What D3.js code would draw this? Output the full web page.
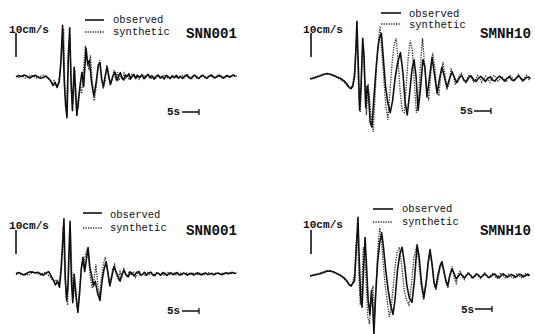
<!DOCTYPE html>
<html>
<head>
<meta charset="utf-8">
<script src="https://cdn.jsdelivr.net/npm/d3@7"></script>
<style>
    body { margin: 0; background: #fff; }
    svg { display: block; }
    .obs { fill: none; stroke: #111; stroke-width: 1.6; stroke-linejoin: round; }
    .syn { fill: none; stroke: #333; stroke-width: 1.3; stroke-dasharray: 1.3, 1.2; }
    .lbl { font-family: "Liberation Mono", "DejaVu Sans Mono", monospace; fill: #111; }
</style>
</head>
<body>
<div id="container"></div>
<script>
// time axis (s) and velocity (cm/s) pairs
const snnUpperObs = [
    [0,0],[0.8,0.6],[1.6,0.2],[2.4,0.8],[3.2,0.3],[4,-0.4],[4.8,0.2],[5.6,0.7],[6.4,0.1],[7.2,-0.5],[8,-0.2],[8.8,0.4],
    [9.6,-0.6],[10.3,-1.8],[10.9,-3.6],[11.5,-2.2],[12.1,-4.4],[12.7,-2],[13.2,6],[13.7,21.5],[14.2,-2],[14.6,-12],
    [15.0,-17],[15.4,8],[15.8,20.5],[16.2,-2],[16.6,-14],[17.1,4],[17.5,-6],[17.9,-16],[18.4,-9],[18.9,-3],[19.4,2],
    [19.9,-4],[20.6,12],[21.1,5],[21.6,7],[22.2,-2],[22.9,-8],[23.6,-2],[24.2,5],[24.7,6],[25.2,-1],[25.7,-4],[26.3,1],
    [26.8,4],[27.3,0],[27.8,-3],[28.4,0],[29.1,2],[29.7,-1.5],[30.2,0.5],[30.7,1.8],[31.2,-0.5],[31.7,-1.2],[32.2,0.8],
    [32.7,0.2],[33.2,1.4],[33.7,-0.8],[34.2,0.3],[34.7,1],[35.2,-0.6],[35.8,0.6],[36.4,-0.2],[37,0.9],[37.6,-0.7],
    [38.2,0.4],[38.8,1.1],[39.4,-0.3],[40,0.5],[40.6,-0.9],[41.2,0.2],[41.8,0.8],[42.4,-0.4],[43,0.3],[43.6,-0.8],
    [44.2,0.6],[44.8,0.1],[45.4,-0.6],[46,0.5],[46.6,-0.3],[47.2,0.7],[47.8,-0.5],[48.4,0.2],[49,-0.6],[49.6,0.4],
    [50.2,0.9],[50.8,-0.2],[51.4,-0.7],[52,0.3],[52.6,0.8],[53.2,-0.3],[53.8,-0.6],[54.4,0.4],[55,0.7],[55.6,-0.2],
    [56.2,-0.5],[56.8,0.3],[57.4,0.9],[58,0.1],[58.6,-0.4],[59.2,0.2],[59.8,0.8],[60.4,0.2],[61,-0.5],[61.6,0.1],
    [62.2,0.6],[62.8,-0.1],[63.4,0.4],[64,0.9],[64.6,0.2]
];
const snnUpperSyn = [
    [0,0.3],[0.9,-0.2],[1.8,0.5],[2.7,-0.4],[3.6,0.2],[4.5,0.7],[5.4,0.1],[6.3,-0.6],[7.2,0.3],[8.1,0.8],[9,-0.2],
    [9.8,-1],[10.5,-2.5],[11.2,-1.5],[11.8,-3.5],[12.4,-3],[13,2],[13.5,14],[14,20],[14.4,-6],[14.9,-14],[15.4,12],
    [15.8,16],[16.3,-6],[16.8,-11],[17.3,3],[17.8,-10],[18.3,-13],[18.8,-4],[19.3,-7],[19.8,2],[20.4,13],[20.9,8],
    [21.4,3],[21.9,9],[22.4,-1],[23,-10],[23.6,-4],[24.1,3],[24.6,7],[25.1,1],[25.6,-5],[26.2,-2],[26.7,5],[27.2,2],
    [27.7,-3],[28.3,-1],[28.8,3],[29.3,-1],[29.8,2],[30.3,-1.5],[30.8,1.2],[31.3,-1],[31.8,1.6],[32.3,-0.4],[32.8,1],
    [33.3,-1.2],[33.8,0.6],[34.4,1.4],[35,-0.5],[35.6,0.8],[36.2,-0.9],[36.8,0.6],[37.4,1],[38,-0.6],[38.6,0.3],
    [39.2,1],[39.8,-0.5],[40.4,0.4],[41,-0.8],[41.6,0.6],[42.2,0.1],[42.8,-0.7],[43.4,0.5],[44,0.9],[44.6,-0.3],
    [45.2,-0.6],[45.8,0.4],[46.4,-0.2],[47,0.5],[47.6,-0.6],[48.2,0.3],[48.8,0.7],[49.4,-0.4],[50,0.2],[50.6,0.8],
    [51.2,-0.1],[51.8,-0.6],[52.4,0.5],[53,0.6],[53.6,-0.4],[54.2,-0.3],[54.8,0.6],[55.4,0.4],[56,-0.4],[56.6,0.1],
    [57.2,0.7],[57.8,-0.2],[58.4,-0.5],[59,0.4],[59.6,0.6],[60.2,-0.1],[60.8,-0.4],[61.4,0.3],[62,0.7],[62.6,0],
    [63.2,0.5],[63.8,0.8],[64.4,0.3],[65,0.5]
];
const smnhUpperObs = [
    [0,0],[1,0.3],[2,0.8],[3,1.3],[4,1.9],[5,2.2],[6,2],[7,1.5],[8,0.8],[9,0.2],[10,-0.8],[10.8,-2],[11.5,-3.4],
    [12.1,-4],[12.6,-3],[13.1,1],[13.5,12],[13.8,24],[14.2,6],[14.6,-13],[15.0,-4],[15.5,17],[15.9,9],[16.4,-12],
    [16.8,-3],[17.2,-6],[17.7,-18],[18.2,-20],[18.7,-10],[19.3,2],[19.9,12],[20.4,17],[21,19],[21.6,8],[22.2,-3],
    [22.9,-10],[23.6,-14],[24.3,-9],[25,0],[25.8,7],[26.6,11],[27.3,3],[28,-10],[28.6,-15],[29.3,-6],[30,4],[30.6,8],
    [31.2,1],[31.8,-13],[32.5,-4],[33.2,8],[33.8,5],[34.4,-7.5],[35.1,0],[35.9,9],[36.6,2],[37.4,-6],[38.1,0],
    [38.8,5],[39.5,1],[40.3,-3.5],[41,0],[41.8,3],[42.5,0.5],[43.2,-1.5],[43.9,0.4],[44.6,1.5],[45.3,-0.5],[46,-1.2],
    [46.7,0.6],[47.4,1.3],[48.1,-0.3],[48.8,-1],[49.5,0.2],[50.2,1.1],[50.9,0.1],[51.6,-1],[52.3,0.3],[53,0.9],
    [53.7,-0.4],[54.4,-0.9],[55.1,0.5],[55.8,1.2],[56.5,0.2],[57.2,-0.8],[57.9,0.2],[58.6,1],[59.3,-0.3],[60,-0.7],
    [60.7,0.5],[61.4,1.4],[62.1,0.1],[62.8,-0.6],[63.5,0.4],[64.2,0.9],[64.8,0.2]
];
const smnhUpperSyn = [
    [0,0.2],[1,0.6],[2,1.1],[3,1.6],[4,2.1],[5,2.4],[6,1.9],[7,1.2],[8,0.5],[9,-0.3],[10,-1.2],[10.8,-2.6],[11.5,-3.8],
    [12.1,-3.6],[12.6,-2],[13.1,3],[13.6,16],[14,10],[14.4,-9],[14.8,-14],[15.3,10],[15.7,14],[16.2,-5],[16.6,-15],
    [17.1,-2],[17.6,-10],[18.1,-17],[18.6,-22],[19.1,-8],[19.6,6],[20.1,15],[20.6,22],[21.1,12],[21.7,0],[22.3,-11],
    [22.9,-17],[23.5,-6],[24.1,6],[24.7,14],[25.3,17],[25.9,8],[26.5,-5],[27.1,-13],[27.7,-14],[28.3,-3],[28.9,9],
    [29.5,16],[30.1,12],[30.7,-2],[31.3,-14],[31.9,-9],[32.5,6],[33.1,17],[33.7,6],[34.3,-4],[34.9,-9],[35.5,2],
    [36.1,11],[36.7,5],[37.3,-5],[37.9,-7],[38.5,2],[39.1,7],[39.7,2],[40.3,-4],[40.9,-2],[41.5,4],[42.1,2],[42.7,-2],
    [43.3,-1],[43.9,1.5],[44.5,2.4],[45.1,-0.2],[45.7,-1.5],[46.3,0.5],[46.9,1.8],[47.5,0.6],[48.1,-1.2],[48.7,-0.3],
    [49.3,1.5],[49.9,0.4],[50.5,-1.3],[51.1,0],[51.7,1.2],[52.3,-0.2],[52.9,-1.4],[53.5,0.3],[54.1,1.6],[54.7,0.5],
    [55.3,-0.9],[55.9,-0.1],[56.5,1],[57.1,-0.4],[57.7,-1.3],[58.3,0.5],[58.9,1.6],[59.5,0.3],[60.1,-0.6],[60.7,0.2],
    [61.3,1.8],[61.9,0.4],[62.5,-0.9],[63.1,0.6],[63.7,1.5],[64.3,-0.2],[64.9,0.4]
];
const snnLowerObs = [
    [0,0.2],[0.8,0.6],[1.6,0.1],[2.4,-0.4],[3.2,0.3],[4,0.9],[4.8,0.8],[5.6,0.4],[6.4,0.7],[7.2,0.1],[8,-0.5],[8.8,0.4],
    [9.6,1],[10.3,-0.8],[11,-2.6],[11.6,-4.5],[12.2,-3],[12.8,-5.5],[13.3,2],[13.7,12],[14.1,23],[14.5,-2],[14.9,-11],
    [15.3,-4],[15.6,10],[15.9,22],[16.3,-3],[16.7,-12],[17.1,0],[17.6,-8],[18.2,-16],[18.7,-8],[19.2,2],[19.7,7],
    [20.2,1],[20.7,6],[21.2,11],[21.7,3],[22.3,-1],[22.8,-5],[23.3,-3],[24,-8],[24.7,-11],[25.3,-3],[25.9,2],[26.5,5],
    [27.1,0],[27.6,-5],[28.2,-1],[28.8,3],[29.4,1],[30,-1],[30.6,-3],[31.2,0],[31.8,1.5],[32.4,-0.5],[33,-1.2],
    [33.6,0.8],[34.2,0.2],[34.8,-0.8],[35.4,0.6],[36,1],[36.6,-0.4],[37.2,-0.2],[37.8,0.7],[38.4,-0.5],[39,0.3],
    [39.6,0.8],[40.2,-0.3],[40.8,-0.7],[41.4,0.4],[42,0.2],[42.6,-0.5],[43.2,0.6],[43.8,0.1],[44.4,-0.6],[45,0.2],
    [45.6,0.5],[46.2,-0.3],[46.8,0.1],[47.4,0.6],[48,-0.4],[48.6,-0.2],[49.2,0.4],[49.8,0.1],[50.4,-0.5],[51,0.2],
    [51.6,0.3],[52.2,-0.4],[52.8,0],[53.4,0.5],[54,-0.1],[54.6,-0.4],[55.2,0.2],[55.8,0.4],[56.4,-0.2],[57,0],
    [57.6,0.3],[58.2,-0.3],[58.8,0.1],[59.4,0.4],[60,0],[60.6,-0.3],[61.2,0.2],[61.8,0.5],[62.4,0.1],[63,0.3],
    [63.6,0.7],[64.2,0.2],[64.8,0.4]
];
const snnLowerSyn = [
    [0,-0.3],[0.9,0.4],[1.8,-0.5],[2.7,0.2],[3.6,-0.6],[4.5,0.3],[5.4,0.9],[6.3,0.2],[7.2,-0.4],[8.1,0.6],[9,0.1],
    [9.8,-0.9],[10.5,-2],[11.2,-3.2],[11.8,-2.2],[12.4,-4],[13,-1],[13.5,9],[13.9,20],[14.3,3],[14.7,-9],[15.2,-13],
    [15.6,6],[16,18],[16.4,2],[16.9,-10],[17.4,-4],[17.9,-14],[18.4,-12],[18.9,-3],[19.4,5],[19.9,3],[20.4,8],[20.9,10],
    [21.4,6],[21.9,-2],[22.5,-6],[23,-2],[23.5,4],[24.1,-5],[24.6,-9],[25.1,-2],[25.7,4],[26.2,7],[26.8,3],[27.3,-3],
    [27.9,-2],[28.4,2],[29,4],[29.5,0],[30.1,-2],[30.6,1],[31.1,-1.5],[31.7,2],[32.2,0],[32.8,-1],[33.3,1.2],[33.9,-0.6],
    [34.5,0.7],[35.1,-1.4],[35.7,0.4],[36.3,1.1],[36.9,-0.5],[37.5,0.3],[38.1,-0.8],[38.7,0.6],[39.3,-0.2],[39.9,0.5],
    [40.5,-0.6],[41.1,0.3],[41.7,0.7],[42.3,-0.4],[42.9,0.2],[43.5,-0.5],[44.1,0.4],[44.7,0.6],[45.3,-0.3],[45.9,0.1],
    [46.5,0.5],[47.1,-0.4],[47.7,0],[48.3,0.4],[48.9,-0.3],[49.5,0.2],[50.1,0.5],[50.7,-0.2],[51.3,-0.4],[51.9,0.3],
    [52.5,0.4],[53.1,-0.2],[53.7,0.1],[54.3,0.5],[54.9,-0.1],[55.5,-0.3],[56.1,0.3],[56.7,0.5],[57.3,0],[57.9,-0.3],
    [58.5,0.3],[59.1,0.5],[59.7,-0.1],[60.3,0.1],[60.9,0.4],[61.5,-0.1],[62.1,0.2],[62.7,0.6],[63.3,0.2],[63.9,0.5],
    [64.5,0.1]
];
const smnhLowerObs = [
    [0,0],[1,0.3],[2,0.6],[3,0.9],[4,1.5],[5,2],[6,2.1],[7,1.7],[8,1],[9,0.3],[10,-0.8],[10.8,-2],[11.5,-3.5],
    [12.1,-4.2],[12.6,-3],[13.1,-2],[13.5,8],[14.1,24.5],[14.5,6],[14.9,-9],[15.3,-13],[15.8,4],[16.2,16],[16.7,2],
    [17.1,-10],[17.6,-16],[18.1,-6],[18.5,-14],[18.8,-24],[19.3,-8],[19.9,6],[20.5,14],[21.1,18],[21.6,12],[22.3,2],
    [23,-6],[23.7,-12],[24.4,-16],[25,-10],[25.7,2],[26.4,9],[27.1,12],[27.8,5],[28.5,-4],[29.2,-9],[30,-11],[30.7,-2],
    [31.5,13],[32.1,8],[32.8,-3],[33.5,-9],[34.2,-2],[34.8,6],[35.3,11],[35.9,5],[36.5,-3],[37,-5],[37.6,0],[38.2,4],
    [38.8,6],[39.4,2],[40,-2],[40.5,-4],[41.1,0],[41.8,3],[42.4,1],[43,-1.2],[43.6,-0.2],[44.2,1],[44.8,0.3],
    [45.4,-0.8],[46,0.2],[46.6,1.1],[47.2,0.4],[47.8,-0.7],[48.4,-0.2],[49,0.8],[49.6,0.3],[50.2,-0.6],[50.8,0.1],
    [51.4,0.9],[52,0.2],[52.6,-0.7],[53.2,-0.2],[53.8,0.6],[54.4,0.8],[55,-0.2],[55.6,-0.8],[56.2,0.1],[56.8,0.9],
    [57.4,0.3],[58,-0.5],[58.6,0],[59.2,0.7],[59.8,0.2],[60.4,-0.6],[61,0.1],[61.6,0.8],[62.2,0.3],[62.8,-0.4],
    [63.4,0.2],[64,0.8],[64.6,0.3]
];
const smnhLowerSyn = [
    [0,0.2],[1,0.5],[2,0.9],[3,1.3],[4,1.8],[5,2.3],[6,2.2],[7,1.5],[8,0.7],[9,0],[10,-1.1],[10.8,-2.4],[11.5,-3.8],
    [12.1,-3.9],[12.6,-2.2],[13.1,1],[13.6,14],[14,18],[14.4,-2],[14.8,-12],[15.2,-6],[15.7,12],[16.1,10],[16.6,-6],
    [17,-17],[17.5,-20],[18,-8],[18.5,-4],[19,-16],[19.5,-2],[20,12],[20.5,20],[21,16],[21.5,6],[22.1,-4],[22.7,-10],
    [23.3,-17],[23.9,-13],[24.5,-4],[25.1,5],[25.7,10],[26.3,12],[27,4],[27.7,-6],[28.4,-10],[29.1,-12],[29.8,-4],
    [30.6,8],[31.3,12],[32,6],[32.7,-4],[33.4,-10],[34.1,-4],[34.7,5],[35.2,9],[35.8,6],[36.4,-2],[37,-6],[37.6,-2],
    [38.2,3],[38.8,5],[39.4,1],[40,-3],[40.6,-5],[41.2,1],[41.8,4],[42.4,-1],[43,-3],[43.6,1],[44.2,2],[44.8,-0.5],
    [45.4,-1.5],[46,0.6],[46.6,1.6],[47.2,0],[47.8,-1.2],[48.4,0.3],[49,1.2],[49.6,-0.2],[50.2,-1],[50.8,0.4],
    [51.4,1.3],[52,-0.1],[52.6,-0.9],[53.2,0.5],[53.8,1.1],[54.4,-0.3],[55,-1],[55.6,0.3],[56.2,1.2],[56.8,0.2],
    [57.4,-0.8],[58,0.4],[58.6,1],[59.2,-0.2],[59.8,-0.9],[60.4,0.3],[61,1.1],[61.6,0],[62.2,-0.7],[62.8,0.5],
    [63.4,1],[64,-0.1],[64.6,0.5]
];

const legendLabels = ['observed', 'synthetic'];
const unitLabel = '10cm/s';
const timeLabel = '5s';
const ampBar = 10;   // cm/s
const timeBar = 5;   // s
const timeSpan = 65; // s of record shown

// panel layout (pixels)
const panels = [
    {station: 'SNN001', obs: snnUpperObs, syn: snnUpperSyn, x0: 16, base: 77,
     unit: [9, 33], ampBarAt: [16, 57], legend: [85, 104, 20, 32, 113, 23, 35], name: [186, 38], tb: [167, 115, 182, 112]},
    {station: 'SMNH10', obs: smnhUpperObs, syn: smnhUpperSyn, x0: 310, base: 79,
     unit: [303, 33], ampBarAt: [311, 57], legend: [381, 401, 13, 24, 409, 17, 28], name: [480, 38], tb: [460, 114, 474, 111]},
    {station: 'SNN001', obs: snnLowerObs, syn: snnLowerSyn, x0: 16, base: 274,
     unit: [9, 229], ampBarAt: [16, 254], legend: [83, 102, 213, 228, 110, 218, 231], name: [186, 235], tb: [167, 314, 182, 311]},
    {station: 'SMNH10', obs: smnhLowerObs, syn: smnhLowerSyn, x0: 310, base: 276,
     unit: [303, 228], ampBarAt: [311, 254], legend: [373, 393, 209, 222, 402, 212, 225], name: [480, 235], tb: [461, 313, 475, 309]}
];

const pxPerSec = 3.4;
const pxPerUnit = 2.4;

const svg = d3.select('#container').append('svg')
    .attr('width', 535)
    .attr('height', 334);

panels.forEach(p => drawPanel(p));

function drawPanel(p) {

    // setup scales
    const xScale = d3.scaleLinear().domain([0, timeSpan]).range([p.x0, p.x0 + timeSpan * pxPerSec]);
    const yScale = d3.scaleLinear().domain([-30, 30]).range([p.base + 30 * pxPerUnit, p.base - 30 * pxPerUnit]);

    const line = d3.line()
        .x(d => xScale(d[0]))
        .y(d => yScale(d[1]));

    // draw traces
    svg.append('path').datum(p.syn).attr('class', 'syn').attr('d', line);
    svg.append('path').datum(p.obs).attr('class', 'obs').attr('d', line);

    // amplitude scale bar
    const barLen = yScale(0) - yScale(ampBar);
    svg.append('line')
        .attr('x1', p.ampBarAt[0]).attr('x2', p.ampBarAt[0])
        .attr('y1', p.ampBarAt[1]).attr('y2', p.ampBarAt[1] - barLen)
        .style('stroke', '#111').style('stroke-width', 1.6);
    svg.append('text')
        .attr('class', 'lbl')
        .attr('x', p.unit[0]).attr('y', p.unit[1])
        .attr('font-size', 11).attr('font-weight', 'bold')
        .attr('textLength', 40).attr('lengthAdjust', 'spacingAndGlyphs')
        .text(unitLabel);

    // time scale bar
    const tLen = xScale(timeBar) - xScale(0);
    svg.append('text')
        .attr('class', 'lbl')
        .attr('x', p.tb[0]).attr('y', p.tb[1])
        .attr('font-size', 11).attr('font-weight', 'bold')
        .text(timeLabel);
    svg.append('line')
        .attr('x1', p.tb[2]).attr('x2', p.tb[2] + tLen)
        .attr('y1', p.tb[3]).attr('y2', p.tb[3])
        .style('stroke', '#111').style('stroke-width', 1.5);
    svg.append('line')
        .attr('x1', p.tb[2] + tLen).attr('x2', p.tb[2] + tLen)
        .attr('y1', p.tb[3] - 3).attr('y2', p.tb[3] + 3)
        .style('stroke', '#111').style('stroke-width', 1.3);

    // legend
    const lg = p.legend;
    svg.append('line').attr('class', 'obs')
        .attr('x1', lg[0]).attr('x2', lg[1]).attr('y1', lg[2]).attr('y2', lg[2]);
    svg.append('line').attr('class', 'syn')
        .attr('x1', lg[0]).attr('x2', lg[1]).attr('y1', lg[3]).attr('y2', lg[3]);
    svg.selectAll(null)
        .data(legendLabels)
        .enter()
        .append('text')
        .attr('class', 'lbl')
        .attr('x', lg[4])
        .attr('y', (d, i) => i === 0 ? lg[5] : lg[6])
        .attr('font-size', 10.5)
        .text(d => d);

    // station name
    svg.append('text')
        .attr('class', 'lbl')
        .attr('x', p.name[0]).attr('y', p.name[1])
        .attr('font-size', 15).attr('font-weight', 'bold')
        .attr('textLength', 51).attr('lengthAdjust', 'spacingAndGlyphs')
        .text(p.station);
}
</script>
</body>
</html>
